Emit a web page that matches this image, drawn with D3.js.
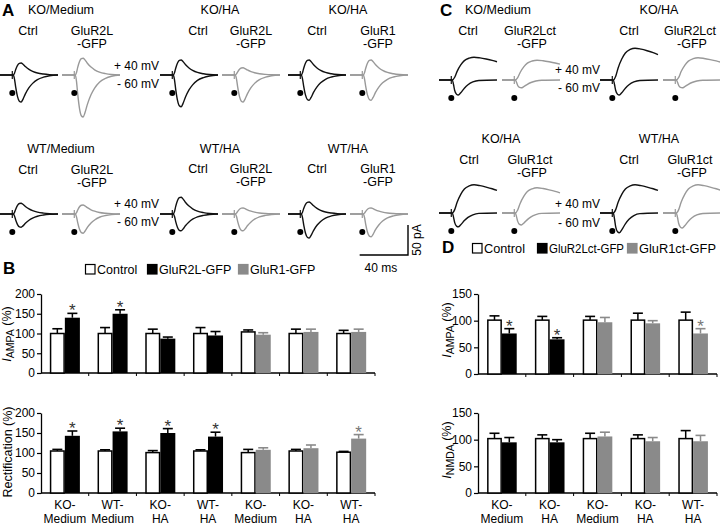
<!DOCTYPE html>
<html><head><meta charset="utf-8">
<script src="https://cdn.jsdelivr.net/npm/d3@7"></script>
<style>body{margin:0;background:#fff}svg{display:block;font-family:"Liberation Sans",Arial,Helvetica,sans-serif}</style>
</head><body><script>
// ---------- DATA ----------
// Panel A traces (pA): order KO/Medium, KO/HA, KO/HA, WT/Medium, WT/HA, WT/HA
const aTitles = ["KO/Medium","KO/HA","KO/HA","WT/Medium","WT/HA","WT/HA"];
const aExpNames = ["GluR2L","GluR2L","GluR1","GluR2L","GluR2L","GluR1"];
const aCtrlPlus40 = [20,25,25,18,28,20];
const aCtrlMinus60 = [45,53,42,22,28,40];
const aExpPlus40 = [28,12,25,15,10,10];
const aExpMinus60 = [70,45,42,32,28,38];
// Panel C traces (pA): order KO/Medium, KO/HA, KO/HA, WT/HA
const cTitles = ["KO/Medium","KO/HA","KO/HA","WT/HA"];
const cExpNames = ["GluR2Lct","GluR2Lct","GluR1ct","GluR1ct"];
const cCtrlPlus40 = [38,53,47,47];
const cCtrlMinus60 = [25,25,23,33];
const cExpPlus40 = [33,37,42,47];
const cExpMinus60 = [13,13,20,25];
// normalised response time courses (ms after stimulus, fraction of peak)
const ampaT = [0,1,2,3.5,5,6.5,8,10,13,16,20,25,30,37];
const ampaV = [0,0.15,0.45,0.8,0.97,1,0.9,0.7,0.47,0.31,0.17,0.08,0.03,0];
const nmdaT = [0,2,4,7,10,14,18,23,28,33,37];
const nmdaV = [0,0.12,0.38,0.66,0.85,0.96,1,0.97,0.92,0.86,0.8];
const fastT = [0,1,2,3.5,5,7,10,13,17,22,37];
const fastV = [0,0.3,0.7,0.95,1,0.85,0.55,0.32,0.13,0.03,0];
const traceMs = 48, stimMs = 11;

// Panel B
const bGroups = ["KO-|Medium","WT-|Medium","KO-|HA","WT-|HA","KO-|Medium","KO-|HA","WT-|HA"];
const bSeries = ["Control","GluR2L-GFP","GluR1-GFP"];
const bTreat = [1,1,1,1,2,2,2];
const bAmpaCtrl = [100,100,100,100,104,100,100];
const bAmpaCtrlErr = [12,15,11,15,5,11,8];
const bAmpaExp = [140,150,87,95,97,104,104];
const bAmpaExpErr = [11,10,4,10,5,7,7];
const bAmpaSig = [1,1,0,0,0,0,0];
const bRectCtrl = [105,105,101,105,101,105,102];
const bRectCtrlErr = [4,3,5,3,8,4,2];
const bRectExp = [143,154,150,141,108,112,136];
const bRectExpErr = [12,8,11,11,5,8,10];
const bRectSig = [1,1,1,1,0,0,1];
const bTicks = [0,50,100,150,200];
// Panel D
const dGroups = ["KO-|Medium","KO-|HA","KO-|Medium","KO-|HA","WT-|HA"];
const dSeries = ["Control","GluR2Lct-GFP","GluR1ct-GFP"];
const dTreat = [1,1,2,2,2];
const dAmpaCtrl = [101,101,101,101,101];
const dAmpaCtrlErr = [8,7,7,13,15];
const dAmpaExp = [76,65,97,95,76];
const dAmpaExpErr = [9,3,9,5,9];
const dAmpaSig = [1,1,0,0,1];
const dNmdaCtrl = [102,102,102,102,102];
const dNmdaCtrlErr = [10,7,10,7,15];
const dNmdaExp = [95,95,106,97,97];
const dNmdaExpErr = [9,5,8,7,11];
const dNmdaSig = [0,0,0,0,0];
const dTicks = [0,50,100,150];

// ---------- DRAW ----------
const BLACK = "#111", GRAY = "#999", BARGRAY = "#8a8a8a";
const svg = d3.select("body").append("svg").attr("width",720).attr("height",525);
const FONT = 12.5;

function txt(x,y,s,opt={}) {
  return svg.append("text").attr("x",x).attr("y",y).attr("text-anchor",opt.anchor||"middle")
    .attr("font-size",opt.size||FONT).attr("font-weight",opt.weight||"normal").attr("fill","#000").text(s);
}

const tx = d3.scaleLinear().domain([0,traceMs]).range([0,58]);
const ty = d3.scaleLinear().domain([0,50]).range([0,30]);
function trace(x0, base, shapeT, shapeV, amp, sign, color) {
  const pts = [[0,0],[stimMs,0]].concat(shapeT.map((t,i)=>[stimMs+t, sign*amp*shapeV[i]]));
  if (pts[pts.length-1][0] < traceMs) pts.push([traceMs, pts[pts.length-1][1]]);
  const line = d3.line().x(d=>x0+tx(d[0])).y(d=>base-ty(d[1])).curve(d3.curveMonotoneX);
  svg.append("path").attr("d",line(pts)).attr("fill","none").attr("stroke",color).attr("stroke-width",1.4);
}
function stim(x0, base, color) {
  const sx = x0 + tx(stimMs) - 1;
  svg.append("line").attr("x1",sx).attr("x2",sx).attr("y1",base-4).attr("y2",base+4).attr("stroke",color).attr("stroke-width",1.2);
  svg.append("circle").attr("cx",sx).attr("cy",base+18).attr("r",3).attr("fill","#000");
}

// Panel A
txt(2,16,"A",{anchor:"start",size:17,weight:"bold"});
const aX = [[0,62],[160,222],[288,350]];
const aTitleX = [61,220,348];
const aCtrlX = [28,198,317];
const aExpX = [92,251,378];
[0,1].forEach(row=>{
  const base = row===0 ? 75 : 214;
  const tY = row===0 ? 14 : 153;
  for (let k=0;k<3;k++){
    const i = row*3+k;
    const lblY = (row===0 || k===0) ? tY+21 : tY+20;
    txt(aTitleX[k], tY, aTitles[i]);
    txt(aCtrlX[k], lblY, "Ctrl");
    txt(aExpX[k], lblY, aExpNames[i]);
    txt(aExpX[k], lblY+13, "-GFP");
    const [xc, xe] = aX[k];
    trace(xc, base, ampaT, ampaV, aCtrlPlus40[i], 1, BLACK);
    trace(xc, base, ampaT, ampaV, aCtrlMinus60[i], -1, BLACK);
    stim(xc, base, BLACK);
    trace(xe, base, ampaT, ampaV, aExpPlus40[i], 1, GRAY);
    trace(xe, base, ampaT, ampaV, aExpMinus60[i], -1, GRAY);
    stim(xe, base, GRAY);
  }
  txt(159, row===0?70:208, "+ 40 mV",{anchor:"end",size:12});
  txt(159, row===0?88:226, "- 60 mV",{anchor:"end",size:12});
});
// scale bar
const sb = {x:408, y:255};
svg.append("path").attr("d",`M${sb.x-tx(40)},${sb.y}H${sb.x}V${sb.y-ty(50)}`).attr("fill","none").attr("stroke","#000").attr("stroke-width",1.4);
txt(sb.x-tx(40)/2-3, 272, "40 ms",{size:12});
svg.append("text").attr("transform",`translate(421,${sb.y-ty(50)/2}) rotate(-90)`).attr("text-anchor","middle").attr("font-size",12).text("50 pA");

// Panel C
txt(440,16,"C",{anchor:"start",size:17,weight:"bold"});
const cX = [[439,502],[600,663]];
const cTitleX = [[498,659],[501,659]];
const cCtrlX = [[468,629],[469,629]];
const cExpX = [[530,690],[530,690]];
[0,1].forEach(row=>{
  const base = row===0 ? 80 : 213;
  const tY = row===0 ? 14 : 143;
  for (let k=0;k<2;k++){
    const i = row*2+k;
    txt(cTitleX[row][k], tY, cTitles[i]);
    txt(cCtrlX[row][k], tY+21, "Ctrl");
    txt(cExpX[row][k], tY+21, cExpNames[i]);
    txt(cExpX[row][k]+2, tY+34, "-GFP");
    const [xc, xe] = cX[k];
    trace(xc, base, nmdaT, nmdaV, cCtrlPlus40[i], 1, BLACK);
    trace(xc, base, fastT, fastV, cCtrlMinus60[i], -1, BLACK);
    stim(xc, base, BLACK);
    trace(xe, base, nmdaT, nmdaV, cExpPlus40[i], 1, GRAY);
    trace(xe, base, fastT, fastV, cExpMinus60[i], -1, GRAY);
    stim(xe, base, GRAY);
  }
  txt(600, row===0?74:208, "+ 40 mV",{anchor:"end",size:12});
  txt(600, row===0?92:227, "- 60 mV",{anchor:"end",size:12});
});

// ---------- bar charts ----------
const fills = ["#fff","#000",BARGRAY];
function barChart(cfg) {
  const g = svg.append("g");
  const n = cfg.groups.length;
  const x = d3.scaleBand().domain(d3.range(n)).range([cfg.x0,cfg.x1]).paddingInner(cfg.pad).paddingOuter(cfg.pad/2);
  const xs = d3.scaleBand().domain([0,1]).range([0,x.bandwidth()]);
  const y = d3.scaleLinear().domain([0,cfg.max]).range([cfg.y0,cfg.yTop]);
  const ax = g.append("g").attr("transform",`translate(${cfg.x0},0)`)
    .call(d3.axisLeft(y).tickValues(cfg.ticks).tickSize(4).tickSizeOuter(0).tickPadding(2));
  ax.select(".domain").attr("stroke","#000").attr("stroke-width",1.3);
  ax.selectAll(".tick line").attr("stroke","#000").attr("stroke-width",1.2);
  ax.selectAll(".tick text").attr("font-size",12).attr("fill","#000").attr("font-family","Liberation Sans, Arial, sans-serif");
  g.append("line").attr("x1",cfg.x0).attr("x2",cfg.x1).attr("y1",cfg.y0).attr("y2",cfg.y0).attr("stroke","#000").attr("stroke-width",1.3);
  d3.range(1,n+1).forEach(i=>{
    const bx = x(i-1)+x.bandwidth()/2+x.step()/2;
    g.append("line").attr("x1",bx).attr("x2",bx).attr("y1",cfg.y0).attr("y2",cfg.y0+3).attr("stroke","#000").attr("stroke-width",1);
  });
  d3.range(n).forEach(i=>{
    const bars = [
      {v:cfg.ctrl[i], e:cfg.ctrlErr[i], s:0, sig:0},
      {v:cfg.exp[i], e:cfg.expErr[i], s:cfg.treat[i], sig:cfg.sig[i]}
    ];
    bars.forEach((b,j)=>{
      const bx = x(i)+xs(j), bw = xs.bandwidth();
      const col = b.s===2 ? BARGRAY : "#000";
      const cx = bx+bw/2;
      g.append("line").attr("x1",cx).attr("x2",cx).attr("y1",y(b.v)).attr("y2",y(b.v+b.e)).attr("stroke",col).attr("stroke-width",1.5);
      g.append("line").attr("x1",cx-5).attr("x2",cx+5).attr("y1",y(b.v+b.e)).attr("y2",y(b.v+b.e)).attr("stroke",col).attr("stroke-width",1.6);
      g.append("rect").attr("x",bx+(j===0?0.75:0)).attr("y",y(b.v)).attr("width",bw-(j===0?1.5:0)).attr("height",cfg.y0-y(b.v))
        .attr("fill",fills[b.s]).attr("stroke",b.s===0?"#000":"none").attr("stroke-width",1.5);
      if (b.sig) g.append("text").attr("x",cx).attr("y",y(b.v+b.e)+3).attr("text-anchor","middle")
        .attr("font-size",17).attr("fill",b.s===2?"#777":"#333").text("*");
    });
    if (cfg.xlabels) {
      const [l1,l2] = cfg.groups[i].split("|");
      const gx = x(i)+x.bandwidth()/2;
      g.append("text").attr("x",gx).attr("y",cfg.y0+16).attr("text-anchor","middle").attr("font-size",12).text(l1);
      g.append("text").attr("x",gx).attr("y",cfg.y0+30).attr("text-anchor","middle").attr("font-size",12).text(l2);
    }
  });
  const t = g.append("text").attr("transform",`translate(${cfg.titleX},${cfg.titleY}) rotate(-90)`).attr("text-anchor","middle").attr("font-size",12.5);
  if (cfg.sub) {
    t.append("tspan").attr("font-style","italic").text("I");
    t.append("tspan").attr("font-size",10.5).attr("dy",3).text(cfg.sub);
    t.append("tspan").attr("dy",-3).text(" (%)");
  } else t.text(cfg.title);
}

function legend(y, series, xs, size, lens) {
  series.forEach((s,i)=>{
    svg.append("rect").attr("x",xs[i]).attr("y",y-9.5).attr("width",9.5).attr("height",9.5)
      .attr("fill",fills[i]).attr("stroke",i===2?BARGRAY:"#000").attr("stroke-width",1.2);
    const t = svg.append("text").attr("x",xs[i]+11.5).attr("y",y).attr("font-size",size).text(s);
    if (lens) t.attr("textLength",lens[i]).attr("lengthAdjust","spacingAndGlyphs");
  });
}

txt(3,274,"B",{anchor:"start",size:17,weight:"bold"});
legend(274,bSeries,[85.5,147.5,238.5],12.5);
barChart({groups:bGroups,x0:41,x1:375,y0:373,yTop:294,max:200,ticks:bTicks,pad:0.37,
  ctrl:bAmpaCtrl,ctrlErr:bAmpaCtrlErr,exp:bAmpaExp,expErr:bAmpaExpErr,treat:bTreat,sig:bAmpaSig,
  xlabels:false,sub:"AMPA",titleX:11,titleY:334});
barChart({groups:bGroups,x0:41,x1:375,y0:493,yTop:413,max:200,ticks:bTicks,pad:0.37,
  ctrl:bRectCtrl,ctrlErr:bRectCtrlErr,exp:bRectExp,expErr:bRectExpErr,treat:bTreat,sig:bRectSig,
  xlabels:true,title:"Rectification (%)",titleX:12,titleY:452});

txt(442,253,"D",{anchor:"start",size:17,weight:"bold"});
legend(253,dSeries,[472.5,537.5,627.5],12.5,[41,75,77]);
barChart({groups:dGroups,x0:478,x1:717,y0:374,yTop:294,max:150,ticks:dTicks,pad:0.38,
  ctrl:dAmpaCtrl,ctrlErr:dAmpaCtrlErr,exp:dAmpaExp,expErr:dAmpaExpErr,treat:dTreat,sig:dAmpaSig,
  xlabels:false,sub:"AMPA",titleX:451,titleY:330});
barChart({groups:dGroups,x0:478,x1:717,y0:493,yTop:413,max:150,ticks:dTicks,pad:0.38,
  ctrl:dNmdaCtrl,ctrlErr:dNmdaCtrlErr,exp:dNmdaExp,expErr:dNmdaExpErr,treat:dTreat,sig:dNmdaSig,
  xlabels:true,sub:"NMDA",titleX:451,titleY:450});
</script></body></html>
